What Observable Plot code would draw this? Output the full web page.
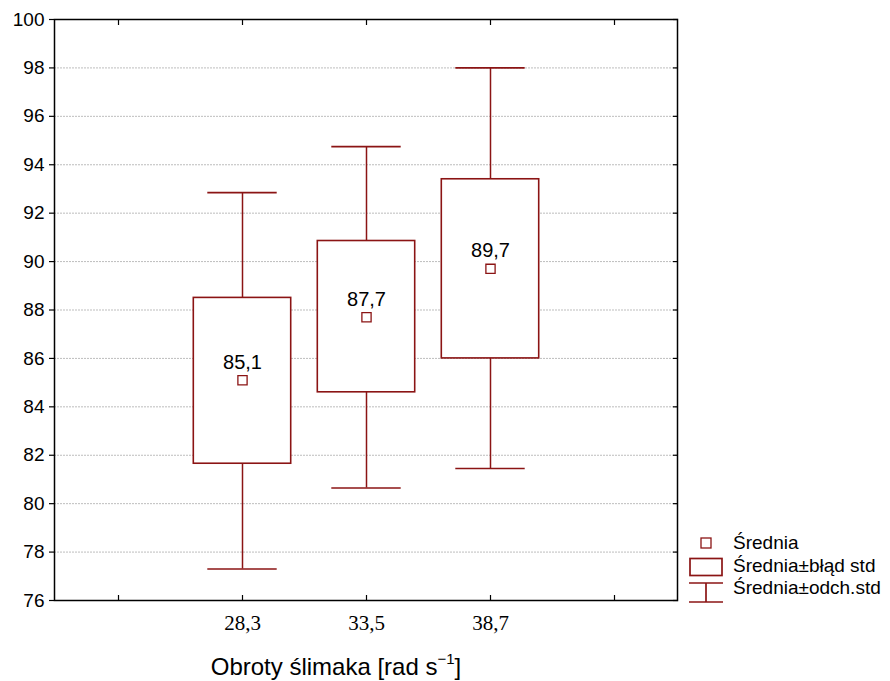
<!DOCTYPE html>
<html>
<head>
<meta charset="utf-8">
<script src="https://cdn.jsdelivr.net/npm/d3@7"></script>
<script src="https://cdn.jsdelivr.net/npm/@observablehq/plot@0.6"></script>
<style>
  body { margin: 0; background: #fff; }
  #wrap { position: relative; width: 890px; height: 681px; font-family: "Liberation Sans", Arial, sans-serif; }
  #xtitle { position: absolute; left: 136px; width: 400px; top: 655px; line-height: 24px; text-align: center; font-size: 24px; color: #000; }
  #xtitle sup { font-size: 15px; line-height: 0; position: relative; top: -2px; }
  .lt { position: absolute; left: 733px; font-size: 19px; line-height: 20px; white-space: nowrap; color: #000; }
  #legsym { position: absolute; left: 680px; top: 530px; }
</style>
</head>
<body>
<div id="wrap">
  <div id="chart"></div>
  <div id="xtitle">Obroty ślimaka [rad s<sup>−1</sup>]</div>
  <svg id="legsym" width="50" height="80">
    <rect x="21" y="8" width="10" height="10" fill="white" stroke="#8b1414" stroke-width="1.3"/>
    <rect x="10" y="28.5" width="32" height="17" fill="white" stroke="#8b1414" stroke-width="1.7"/>
    <line x1="9" x2="43" y1="53" y2="53" stroke="#8b1414" stroke-width="1.7"/>
    <line x1="26" x2="26" y1="53" y2="72" stroke="#8b1414" stroke-width="1.7"/>
    <line x1="9" x2="43" y1="72" y2="72" stroke="#8b1414" stroke-width="1.7"/>
  </svg>
  <div class="lt" style="top:533px">Średnia</div>
  <div class="lt" style="top:556px">Średnia±błąd std</div>
  <div class="lt" style="top:578px">Średnia±odch.std</div>
</div>
<script>
const categories = ["28,3", "33,5", "38,7"];
const means  = [85.1, 87.7, 89.7];
const seLow  = [81.65, 84.6, 86.0];
const seHigh = [88.5, 90.85, 93.4];
const sdLow  = [77.3, 80.65, 81.45];
const sdHigh = [92.85, 94.75, 98.0];
const yTicks = [76, 78, 80, 82, 84, 86, 88, 90, 92, 94, 96, 98, 100];
const xDomain = [" ", ...categories, "  "];

const red = "#8b1414";
const data = categories.map((c, i) => ({
  cat: c, mean: means[i], seLow: seLow[i], seHigh: seHigh[i], sdLow: sdLow[i], sdHigh: sdHigh[i]
}));
const fmt = v => v.toFixed(1).replace(".", ",");

const chart = Plot.plot({
  width: 890,
  height: 681,
  marginLeft: 54,
  marginRight: 213,
  marginTop: 19,
  marginBottom: 81,
  style: { fontFamily: "'Liberation Sans', Arial, sans-serif", background: "white", color: "black", overflow: "visible" },
  x: { type: "band", domain: xDomain, padding: 0 },
  y: { domain: [76, 100] },
  marks: [
    Plot.ruleY(yTicks.filter(d => d > 76 && d < 100), { stroke: "#bdbdbd", strokeDasharray: "2,1", strokeWidth: 1 }),
    Plot.ruleX(data, { x: "cat", y1: "sdLow", y2: "sdHigh", stroke: red, strokeWidth: 1.5 }),
    Plot.rectY(data, { x: "cat", y1: "seLow", y2: "seHigh", fill: "white", stroke: red, strokeWidth: 1.6, insetLeft: 13.3, insetRight: 13.3 }),
    Plot.tickY(data, { x: "cat", y: "sdLow", stroke: red, strokeWidth: 1.6, insetLeft: 27.3, insetRight: 27.3 }),
    Plot.tickY(data, { x: "cat", y: "sdHigh", stroke: red, strokeWidth: 1.6, insetLeft: 27.3, insetRight: 27.3 }),
    Plot.dot(data, { x: "cat", y: "mean", symbol: "square", r: 5.2, stroke: red, fill: "white", strokeWidth: 1.3 }),
    Plot.text(data, { x: "cat", y: "mean", text: d => fmt(d.mean), dy: -18, fontSize: 20, fill: "black" }),
    Plot.frame({ stroke: "black", strokeWidth: 1.5 }),
    Plot.axisY({ ticks: yTicks, tickSize: 5, tickPadding: 5, fontSize: 19, label: null, stroke: "black", strokeWidth: 1.2 }),
    Plot.axisY({ anchor: "right", ticks: yTicks, tickSize: 5, dx: -5, text: null, label: null, strokeWidth: 1.2 }),
    Plot.axisX({ anchor: "top", tickSize: 5, dy: 5, text: null, label: null, strokeWidth: 1.2 }),
    Plot.axisX({ anchor: "bottom", tickSize: 5, dy: -5, text: null, label: null, strokeWidth: 1.2 }),
    Plot.text(categories, { x: d => d, frameAnchor: "bottom", lineAnchor: "middle", dy: 23, fontSize: 21, fontFamily: "'Liberation Serif', 'Times New Roman', serif", fill: "black" })
  ]
});
document.getElementById("chart").appendChild(chart);
</script>
</body>
</html>
